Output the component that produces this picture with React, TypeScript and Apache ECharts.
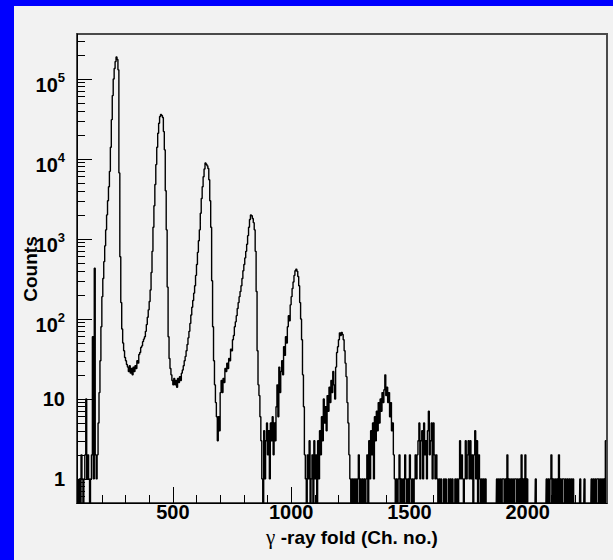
import React, { useEffect, useRef } from "react";
import * as echarts from "echarts";

// ---- axis ticks / labels ----
const xMajorTicks = [500, 1000, 1500, 2000];
const xMinorTicks = [100, 200, 300, 400, 600, 700, 800, 900, 1100, 1200, 1300, 1400, 1600, 1700, 1800, 1900, 2100, 2200, 2300];
const yMajorTicks = [1, 10, 100, 1000, 10000, 100000];
const yMinorTicks = [
  0.6, 0.7, 0.8, 0.9,
  2, 3, 4, 5, 6, 7, 8, 9,
  20, 30, 40, 50, 60, 70, 80, 90,
  200, 300, 400, 500, 600, 700, 800, 900,
  2000, 3000, 4000, 5000, 6000, 7000, 8000, 9000,
  20000, 30000, 40000, 50000, 60000, 70000, 80000, 90000,
  200000, 300000,
];
const xTitleGreek = "γ";
const xTitleRest = " -ray fold (Ch. no.)";
const yTitle = "Counts";

// ---- spectrum: [channel, counts] ----
const lowNoise = [
  [98, 1], [102, 0], [106, 1], [110, 0], [114, 2], [118, 1], [122, 0], [126, 1], [130, 2], [134, 10],
  [138, 1], [142, 2], [146, 1], [150, 0], [154, 1], [158, 2], [162, 60], [166, 1], [170, 430], [174, 2], [178, 1],
];
const peak1 = [
  [182, 2], [186, 5], [190, 12], [194, 30], [198, 80], [202, 190], [206, 320], [210, 520], [214, 820], [218, 1300],
  [222, 2000], [226, 3000], [230, 4500], [234, 7000], [238, 14000], [242, 31000], [246, 62000], [250, 100000],
  [254, 135000], [258, 165000], [262, 188000], [266, 175000], [270, 130000], [274, 6700], [278, 600], [282, 160],
  [286, 75], [290, 50], [294, 40], [298, 33], [302, 30], [306, 27], [310, 25], [314, 22], [318, 26], [322, 21],
  [326, 24], [330, 20], [334, 25], [338, 22], [342, 26],
];
const peak2 = [
  [346, 24], [350, 30], [354, 28], [358, 36], [362, 38], [366, 44], [370, 46], [374, 52], [378, 56], [382, 60],
  [386, 70], [390, 85], [394, 105], [398, 130], [402, 165], [406, 230], [410, 380], [414, 700], [418, 1400],
  [422, 2600], [426, 4800], [430, 8500], [434, 14000], [438, 21000], [442, 28000], [446, 34000], [450, 36000],
  [454, 35000], [458, 33000], [462, 22000], [466, 13000], [470, 4000], [474, 1300], [478, 250], [482, 60],
  [486, 32], [490, 24], [494, 20], [498, 17], [502, 15], [506, 18], [510, 15], [514, 17], [518, 14], [522, 18],
  [526, 16], [530, 19],
];
const peak3 = [
  [534, 17], [538, 21], [542, 23], [546, 26], [550, 30], [554, 34], [558, 40], [562, 48], [566, 58], [570, 70],
  [574, 88], [578, 112], [582, 140], [586, 170], [590, 210], [594, 260], [598, 350], [602, 480], [606, 680],
  [610, 950], [614, 1300], [618, 2100], [622, 3200], [626, 4500], [630, 6000], [634, 7500], [638, 8900],
  [642, 8600], [646, 8200], [650, 7600], [654, 5500], [658, 3000], [662, 1400], [666, 300], [670, 80], [674, 30],
  [678, 15], [682, 9], [686, 6], [690, 3], [694, 6], [698, 4], [702, 12], [706, 17], [710, 12], [714, 18],
];
const peak4 = [
  [718, 16], [722, 24], [726, 22], [730, 28], [734, 24], [738, 32], [742, 30], [746, 42], [750, 40], [754, 55],
  [758, 62], [762, 80], [766, 92], [770, 110], [774, 135], [778, 160], [782, 190], [786, 220], [790, 260],
  [794, 320], [798, 400], [802, 480], [806, 580], [810, 700], [814, 860], [818, 1100], [822, 1400], [826, 1750],
  [830, 2000], [834, 1950], [838, 1800], [842, 1600], [846, 1300], [850, 700], [854, 220], [858, 40], [862, 15],
  [866, 11], [870, 6], [874, 3], [878, 1], [882, 0], [886, 4], [890, 1], [894, 3], [898, 5], [902, 2], [906, 4],
  [910, 1], [914, 5], [918, 3], [922, 6], [926, 2], [930, 5], [934, 3],
];
const peak5 = [
  [938, 8], [942, 15], [946, 6], [950, 25], [954, 12], [958, 22], [962, 30], [966, 20], [970, 45], [974, 35],
  [978, 60], [982, 50], [986, 80], [990, 110], [994, 95], [998, 150], [1002, 190], [1006, 240], [1010, 290],
  [1014, 350], [1018, 400], [1022, 420], [1026, 395], [1030, 340], [1034, 260], [1038, 160], [1042, 100],
  [1046, 55], [1050, 20], [1054, 8], [1058, 2],
  [1062, 1], [1066, 0], [1070, 2], [1074, 1], [1078, 3], [1082, 0], [1086, 1], [1090, 2], [1094, 0], [1098, 3],
  [1102, 1], [1106, 2], [1110, 0], [1114, 3], [1118, 1],
];
const peak6 = [
  [1122, 4], [1126, 2], [1130, 6], [1134, 3], [1138, 10], [1142, 5], [1146, 8], [1150, 4], [1154, 11], [1158, 7],
  [1162, 14], [1166, 9], [1170, 17], [1174, 12], [1178, 22], [1182, 15], [1186, 10], [1190, 25], [1194, 38],
  [1198, 45], [1202, 55], [1206, 67], [1210, 62], [1214, 68], [1218, 64], [1222, 55], [1226, 40], [1230, 28],
  [1234, 19], [1238, 9], [1242, 5], [1246, 2],
  [1250, 1], [1254, 0], [1258, 1], [1262, 0], [1266, 1], [1270, 0], [1274, 1], [1278, 0], [1282, 1], [1286, 2],
  [1290, 0], [1294, 1], [1298, 0], [1302, 1], [1306, 0], [1310, 1], [1314, 0], [1318, 1], [1322, 2], [1326, 0], [1330, 3],
];
const peak7 = [
  [1334, 1], [1338, 4], [1342, 2], [1346, 5], [1350, 1], [1354, 6], [1358, 3], [1362, 7], [1366, 4], [1370, 9],
  [1374, 5], [1378, 10], [1382, 7], [1386, 12], [1390, 9], [1394, 13], [1398, 20], [1402, 11], [1406, 14],
  [1410, 9], [1414, 12], [1418, 6], [1422, 9], [1426, 4], [1430, 5], [1434, 2], [1438, 1],
  [1442, 0], [1446, 1], [1450, 0], [1454, 1], [1458, 2], [1462, 0], [1466, 1], [1470, 0], [1474, 1], [1478, 0],
  [1482, 2], [1486, 1],
];
const peak8 = [
  [1490, 0], [1494, 1], [1498, 0], [1502, 2], [1506, 1], [1510, 0], [1514, 1], [1518, 0], [1522, 1], [1526, 2],
  [1530, 1], [1534, 2], [1538, 3], [1542, 5], [1546, 1], [1550, 3], [1554, 4], [1558, 1], [1562, 5], [1566, 2],
  [1570, 3], [1574, 1], [1578, 4], [1582, 7], [1586, 2], [1590, 3], [1594, 5], [1598, 1], [1602, 5], [1606, 2],
  [1610, 1], [1614, 2], [1618, 1], [1622, 0],
  [1626, 1], [1630, 0], [1634, 1], [1638, 0], [1642, 0], [1646, 1], [1650, 0], [1654, 1], [1658, 0], [1662, 0],
  [1666, 1], [1670, 0], [1674, 1], [1678, 0], [1682, 1], [1686, 0], [1690, 0], [1694, 1], [1698, 0],
];
const peak9 = [
  [1702, 1], [1706, 0], [1710, 1], [1714, 3], [1718, 1], [1722, 2], [1726, 1], [1730, 0], [1734, 1], [1738, 3],
  [1742, 1], [1746, 2], [1750, 3], [1754, 1], [1758, 3], [1762, 1], [1766, 2], [1770, 0], [1774, 2], [1778, 4],
  [1782, 1], [1786, 3], [1790, 0], [1794, 2], [1798, 1], [1802, 0], [1806, 1], [1810, 0], [1814, 1], [1818, 0],
  [1822, 1], [1826, 0], [1866, 0],
];
const tail = [
  [1870, 1], [1874, 0], [1878, 1], [1882, 0], [1886, 1], [1890, 0], [1894, 1], [1898, 1], [1902, 0], [1906, 1],
  [1910, 0], [1914, 2], [1918, 0], [1922, 1], [1926, 0], [1930, 1], [1934, 0], [1938, 1], [1942, 0], [1946, 1],
  [1950, 1], [1954, 0], [1958, 1], [1962, 0], [1966, 1], [1970, 0], [1974, 2], [1978, 0], [1982, 1], [1986, 0],
  [1990, 2], [1994, 0], [1998, 1], [2002, 0], [2006, 0], [2030, 0], [2034, 1], [2038, 0], [2076, 0],
  [2080, 1], [2084, 0], [2088, 1], [2092, 0], [2096, 1], [2100, 2], [2104, 0], [2108, 1], [2112, 0], [2116, 1],
  [2120, 0], [2124, 1], [2128, 0], [2132, 2], [2136, 0], [2140, 1], [2144, 0], [2148, 1], [2152, 1], [2156, 0],
  [2160, 1], [2164, 0], [2168, 1], [2172, 0], [2176, 1], [2180, 0], [2184, 1], [2188, 0], [2192, 1], [2196, 0],
  [2200, 0], [2218, 0], [2222, 1], [2226, 0], [2236, 0], [2240, 1], [2244, 0], [2266, 0],
  [2270, 1], [2274, 0], [2278, 1], [2282, 0], [2286, 1], [2290, 0], [2294, 1], [2298, 1], [2302, 0], [2306, 1],
  [2310, 0], [2314, 1], [2318, 0], [2322, 1], [2326, 0], [2330, 3], [2334, 3],
];

const FONT = "'Liberation Sans', Arial, Helvetica, sans-serif";
const SERIF = "'Liberation Serif', 'DejaVu Serif', serif";
const X_MIN = 95;
const X_MAX = 2335;
const Y_MIN = 0.5;
const Y_MAX = 365000;
const ZERO_FLOOR = 0.3; // empty bins fall to the bottom of the log frame

export default function App() {
  const ref = useRef<HTMLDivElement>(null);

  useEffect(() => {
    document.body.style.margin = "0";
    if (!ref.current) return;
    const chart = echarts.init(ref.current, undefined, { renderer: "svg" });

    const spectrum = [
      ...lowNoise, ...peak1, ...peak2, ...peak3, ...peak4, ...peak5,
      ...peak6, ...peak7, ...peak8, ...peak9, ...tail,
    ].map(([ch, c]) => [ch, c > 0 ? c : ZERO_FLOOR]);

    const labelRich = {
      b: {
        fontSize: 20, fontWeight: "bold", fontFamily: FONT, color: "#000",
        height: 19, lineHeight: 19, verticalAlign: "bottom",
      },
      s: {
        fontSize: 13, fontWeight: "bold", fontFamily: FONT, color: "#000",
        height: 29, lineHeight: 31, verticalAlign: "top",
      },
    };

    chart.setOption({
      animation: false,
      backgroundColor: "#f2f2f2",
      grid: {
        left: 77, right: 6, top: 34, bottom: 57,
        show: true, borderColor: "#4a4a4a", borderWidth: 2, backgroundColor: "transparent",
      },
      graphic: [
        { type: "rect", left: 0, top: 0, shape: { width: 613, height: 6 }, style: { fill: "#0000ff" }, silent: true },
        { type: "rect", left: 0, top: 0, shape: { width: 14, height: 560 }, style: { fill: "#0000ff" }, silent: true },
        {
          type: "text", x: 352, y: 537,
          style: {
            text: `{g|${xTitleGreek}}{t|${xTitleRest}}`,
            align: "center", verticalAlign: "middle",
            rich: {
              g: { fontSize: 21, fontFamily: SERIF, fontWeight: "normal", fill: "#000" },
              t: { fontSize: 19, fontFamily: FONT, fontWeight: "bold", fill: "#000" },
            },
          },
        },
        {
          type: "text", x: 30, y: 269, rotation: Math.PI / 2,
          style: { text: yTitle, font: `bold 19px ${FONT}`, fill: "#000", align: "center", verticalAlign: "middle" },
        },
      ],
      xAxis: [
        {
          type: "value", min: X_MIN, max: X_MAX,
          axisLine: { show: true, lineStyle: { color: "#000", width: 1 } },
          axisTick: { show: true, inside: true, length: 16, customValues: xMajorTicks, lineStyle: { color: "#000" } },
          axisLabel: {
            show: true, customValues: xMajorTicks, margin: -1,
            fontSize: 20, fontWeight: "bold", fontFamily: FONT, color: "#000",
            formatter: (v: number) => String(v),
          },
          splitLine: { show: false },
        },
        {
          type: "value", min: X_MIN, max: X_MAX, position: "bottom",
          axisLine: { show: false },
          axisTick: { show: true, inside: true, length: 8, customValues: xMinorTicks, lineStyle: { color: "#000" } },
          axisLabel: { show: false },
          splitLine: { show: false },
        },
      ],
      yAxis: [
        {
          type: "log", logBase: 10, min: Y_MIN, max: Y_MAX,
          axisLine: { show: true, lineStyle: { color: "#000", width: 1 } },
          axisTick: { show: true, inside: true, length: 15, customValues: yMajorTicks, lineStyle: { color: "#000" } },
          axisLabel: {
            show: true, customValues: yMajorTicks, margin: 12,
            fontSize: 20, fontWeight: "bold", fontFamily: FONT, color: "#000",
            formatter: (v: number) => {
              const e = Math.round(Math.log10(v));
              if (e <= 1) return String(Math.round(v));
              return `{b|10}{s|${e}}`;
            },
            rich: labelRich,
          },
          splitLine: { show: false },
        },
        {
          type: "log", logBase: 10, min: Y_MIN, max: Y_MAX, position: "left",
          axisLine: { show: false },
          axisTick: { show: true, inside: true, length: 8, customValues: yMinorTicks, lineStyle: { color: "#000" } },
          axisLabel: { show: false },
          splitLine: { show: false },
        },
      ],
      series: [
        {
          type: "line",
          xAxisIndex: 0,
          yAxisIndex: 0,
          step: "middle",
          data: spectrum,
          showSymbol: false,
          symbol: "none",
          clip: true,
          lineStyle: { color: "#000", width: 1.4 },
          silent: true,
        },
      ],
    });

    return () => chart.dispose();
  }, []);

  return <div ref={ref} style={{ width: 613, height: 560 }} />;
}
